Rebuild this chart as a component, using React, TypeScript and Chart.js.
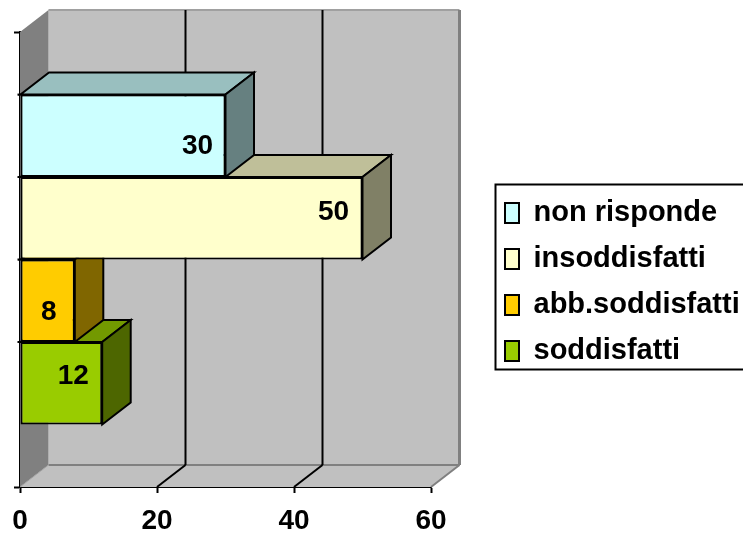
import React, { useEffect, useRef } from "react";
import { Chart, registerables } from "chart.js";

Chart.register(...registerables);

const categories = [""];
const seriesNames = ["non risponde", "insoddisfatti", "abb.soddisfatti", "soddisfatti"];
const seriesValues = [30, 50, 8, 12];
const seriesColors = ["#CCFFFF", "#FFFFCC", "#FFCC00", "#99CC00"];
const topColors = ["#99BFBF", "#BFBF99", "#BF9900", "#739900"];
const sideColors = ["#668080", "#808066", "#806600", "#4D6600"];
const axisTicks = [0, 20, 40, 60];

const FONT = "'Liberation Sans', Arial, sans-serif";
const DX = 28.5;
const DY = 22;
const labelNudge = [
  [-28, 10],
  [-29, -6],
  [-26, 12],
  [-29, -7],
];

const line = (ctx: any, pts: number[][], stroke: string, width: number) => {
  ctx.beginPath();
  pts.forEach((p, i) => (i ? ctx.lineTo(p[0], p[1]) : ctx.moveTo(p[0], p[1])));
  ctx.strokeStyle = stroke;
  ctx.lineWidth = width;
  ctx.stroke();
};
const poly = (ctx: any, pts: number[][], fill: string, stroke?: string, width = 2) => {
  ctx.beginPath();
  pts.forEach((p, i) => (i ? ctx.lineTo(p[0], p[1]) : ctx.moveTo(p[0], p[1])));
  ctx.closePath();
  ctx.fillStyle = fill;
  ctx.fill();
  if (stroke) {
    ctx.strokeStyle = stroke;
    ctx.lineWidth = width;
    ctx.lineJoin = "miter";
    ctx.stroke();
  }
};

const box3d = {
  id: "box3d",
  afterLayout(chart: any) {
    const lg = chart.legend;
    lg.left = 488;
    lg.right = 743;
    lg.top = 181.5;
    lg.bottom = 535;
    lg.adjustHitBoxes();
  },
  beforeDatasetsDraw(chart: any) {
    const { ctx, chartArea: a, scales } = chart;
    const { left: l, right: r, top: t, bottom: b } = a;
    ctx.save();
    poly(ctx, [[l + DX, t - DY], [r + DX, t - DY], [r + DX, b - DY], [l + DX, b - DY]], "#C0C0C0");
    poly(ctx, [[l, t], [l + DX, t - DY], [l + DX, b - DY], [l, b]], "#808080");
    poly(ctx, [[l, b], [l + DX, b - DY], [r + DX, b - DY], [r, b]], "#C0C0C0");
    line(ctx, [[l + DX, t - DY], [r + DX, t - DY]], "#A0A0A0", 2);
    line(ctx, [[r + DX, t - DY], [r + DX, b - DY]], "#808080", 3);
    line(ctx, [[l + DX, b - DY], [r + DX, b - DY]], "#808080", 2);
    line(ctx, [[l, b], [l + DX, b - DY]], "#A0A0A0", 1);
    line(ctx, [[r, b], [r + DX, b - DY]], "#808080", 2);
    axisTicks.slice(1, -1).forEach((v) => {
      const x = Math.round(scales.x.getPixelForValue(v));
      line(ctx, [[x + DX, t - DY], [x + DX, b - DY]], "#000", 2);
      line(ctx, [[x, b], [x + DX, b - DY]], "#000", 2);
    });
    ctx.restore();
  },
  beforeDatasetDraw(chart: any, args: any) {
    const { ctx } = chart;
    const i = args.index;
    const el = args.meta.data[0];
    const { x, y, base, height } = el.getProps(["x", "y", "base", "height"], true);
    const tp = y - height / 2;
    const bt = y + height / 2;
    ctx.save();
    poly(ctx, [[base, tp], [x, tp], [x + DX, tp - DY], [base + DX, tp - DY]], topColors[i], "#000", 2);
    poly(ctx, [[x, tp], [x + DX, tp - DY], [x + DX, bt - DY], [x, bt]], sideColors[i], "#000", 2);
    line(ctx, [[base - 3, tp], [base, tp]], "#000", 2);
    ctx.restore();
  },
  afterDatasetsDraw(chart: any) {
    const { ctx } = chart;
    ctx.save();
    ctx.fillStyle = "#000";
    ctx.font = `bold 28px ${FONT}`;
    ctx.textAlign = "center";
    ctx.textBaseline = "middle";
    seriesValues.forEach((v, i) => {
      const el = chart.getDatasetMeta(i).data[0];
      ctx.fillText(String(v), el.x + labelNudge[i][0], el.y + labelNudge[i][1]);
    });
    ctx.restore();
  },
  afterDraw(chart: any) {
    const { ctx, legend } = chart;
    ctx.save();
    ctx.strokeStyle = "#000";
    ctx.lineWidth = 2;
    ctx.strokeRect(495.5, 184.5, 260, 185);
    legend.legendHitBoxes.forEach((hb: any, i: number) => {
      ctx.fillStyle = seriesColors[i];
      ctx.fillRect(hb.left, hb.top + hb.height / 2 - 10, 20, 20);
      ctx.strokeRect(hb.left + 1, hb.top + hb.height / 2 - 9, 18, 18);
    });
    ctx.restore();
  },
};

export default function App() {
  const ref = useRef<HTMLCanvasElement>(null);
  useEffect(() => {
    const chart = new Chart(ref.current as any, {
      type: "bar",
      data: {
        labels: categories,
        datasets: seriesNames.map((name, i) => ({
          label: name,
          data: [seriesValues[i]],
          backgroundColor: seriesColors[i],
          borderColor: "#000",
          borderWidth: 2,
          borderSkipped: false,
          barPercentage: 1,
          categoryPercentage: 0.725,
        })),
      },
      options: {
        indexAxis: "y",
        responsive: false,
        animation: false,
        layout: { padding: { top: 32, right: 311, left: 0, bottom: 0 } },
        scales: {
          x: {
            min: 0,
            max: 60,
            afterFit: (s: any) => { s.height = 48; },
            afterBuildTicks: (s: any) => { s.ticks = axisTicks.map((value) => ({ value })); },
            border: { color: "#000", width: 2 },
            grid: { drawOnChartArea: false, drawTicks: true, tickLength: 6, tickColor: "#000", tickWidth: 2 },
            ticks: {
              color: "#000",
              font: { family: FONT, size: 28, weight: "bold" },
              padding: 11,
              maxRotation: 0,
              autoSkip: false,
            },
          },
          y: {
            afterFit: (s: any) => { s.width = 20; },
            border: { color: "#000", width: 2 },
            grid: { drawOnChartArea: false, drawTicks: true, tickLength: 6, tickColor: "#000", tickWidth: 2, offset: true },
            ticks: { display: false },
          },
        },
        plugins: {
          tooltip: { enabled: false },
          legend: {
            position: "right",
            align: "start",
            maxWidth: 1,
            labels: {
              boxWidth: 14,
              boxHeight: 20,
              padding: 17,
              color: "#000",
              font: { family: FONT, size: 29, weight: "bold" },
            },
          },
        },
      } as any,
      plugins: [box3d],
    });
    return () => chart.destroy();
  }, []);
  return (
    <canvas
      ref={ref}
      width={743}
      height={535}
      style={{ position: "absolute", left: 0, top: 0, display: "block", width: 743, height: 535 }}
    />
  );
}
